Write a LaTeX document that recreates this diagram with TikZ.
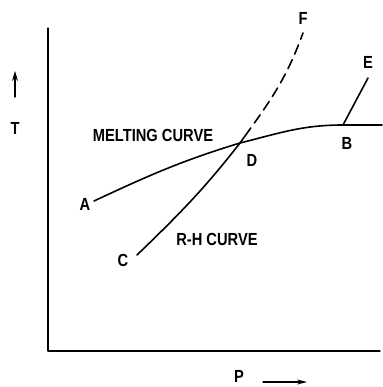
\documentclass[tikz,border=0pt]{standalone}
\usepackage{fontspec}
\setmainfont[FakeStretch=0.84]{Liberation Sans}
\usetikzlibrary{arrows.meta}

\begin{document}
\begin{tikzpicture}[x=1pt, y=1pt, line cap=round, line join=round,
    curve/.style={line width=1.6pt},
    lbl/.style={inner sep=0pt, font=\fontsize{17.5}{20}\selectfont\bfseries}]
  \useasboundingbox (0,0) rectangle (382,387);

  % axes
  \coordinate (O) at (48,36);
  \coordinate (Ytop) at (48,359);
  \coordinate (Xend) at (380,36);
  \draw[line width=1.2pt] (Ytop) -- (O) -- (Xend);

  % points on the curves
  \coordinate (A) at (94,186);
  \coordinate (D) at (240,244);
  \coordinate (B) at (343,262);
  \coordinate (Bend) at (382,262);
  \coordinate (C) at (137,132);
  \coordinate (Dsolid) at (245,251);
  \coordinate (F) at (303,354);
  \coordinate (E) at (368,309);

  % melting curve
  \draw[curve] (A) to[out=25, in=197] (D) to[out=14, in=180] (B) -- (Bend);

  % R-H curve
  \draw[curve] (C) to[out=44, in=-128] (D) -- (Dsolid);
  \draw[curve, dash pattern=on 10pt off 6pt] (Dsolid) to[out=54, in=-110] (F);

  % B to E
  \draw[curve] (B) -- (E);

  % axis arrows
  \coordinate (Tbot) at (15,290);
  \coordinate (Ttip) at (15,316);
  \draw[line width=1.3pt, -{Stealth[length=10pt, width=6pt]}] (Tbot) -- (Ttip);
  \coordinate (Pbeg) at (263,5);
  \coordinate (Ptip) at (307,5);
  \draw[line width=1.3pt, -{Stealth[length=10pt, width=5pt]}] (Pbeg) -- (Ptip);

  % labels
  \node[lbl] (Tlbl) at (15,259) {T};
  \node[lbl] (Plbl) at (239,11) {P};
  \node[lbl] (Albl) at (85,183) {A};
  \node[lbl] (Clbl) at (123,127) {C};
  \node[lbl] (Dlbl) at (252,227) {D};
  \node[lbl] (Blbl) at (347,244) {B};
  \node[lbl] (Elbl) at (368,325) {E};
  \node[lbl] (Flbl) at (303,369) {F};
  \node[lbl] (melt) at (153,252) {MELTING CURVE};
  \node[lbl] (rh) at (217,148) {R-H CURVE};
\end{tikzpicture}
\end{document}
